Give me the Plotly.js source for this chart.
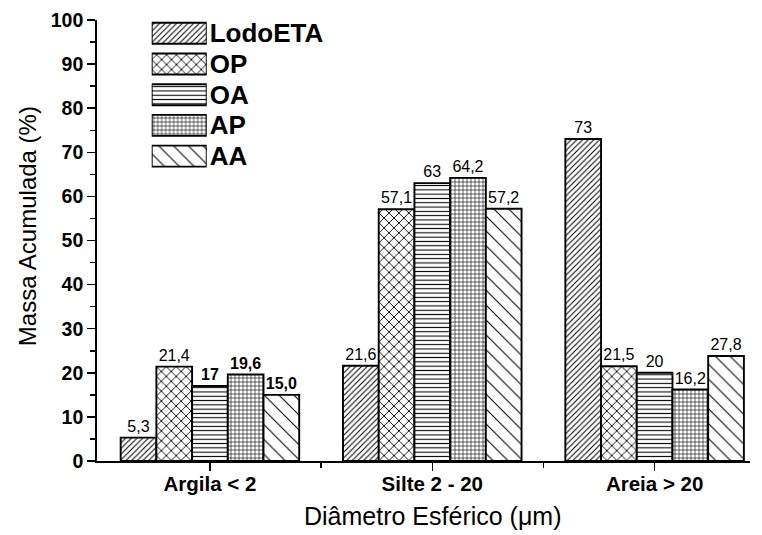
<!DOCTYPE html>
<html><head><meta charset="utf-8">
<script src="https://cdn.plot.ly/plotly-3.0.1.min.js"></script>
<style>body{margin:0;background:#fff}#chart{width:762px;height:535px}</style>
</head><body><div id="chart"></div>
<script>
// ---- data ----
const categories = ['Argila < 2', 'Silte 2 - 20', 'Areia > 20'];
const seriesNames = ['LodoETA', 'OP', 'OA', 'AP', 'AA'];
const lodoETA = [5.3, 21.6, 73];
const op = [21.4, 57.1, 21.5];
const oa = [17, 63, 20];
const ap = [19.6, 64.2, 16.2];
const aa = [15.0, 57.2, 23.8];
const lodoETALabels = ['5,3', '21,6', '73'];
const opLabels = ['21,4', '57,1', '21,5'];
const oaLabels = ['17', '63', '20'];
const apLabels = ['19,6', '64,2', '16,2'];
const aaLabels = ['15,0', '57,2', '27,8'];
const lodoETABold = [false, false, false];
const opBold = [false, false, false];
const oaBold = [true, false, false];
const apBold = [true, false, false];
const aaBold = [true, false, false];
const yTicks = [0, 10, 20, 30, 40, 50, 60, 70, 80, 90, 100];
const xTitle = 'Diâmetro Esférico (μm)';
const yTitle = 'Massa Acumulada (%)';

// ---- styles ----
const FONT = 'Liberation Sans, Arial, Helvetica, sans-serif';
const patterns = [
  {shape: '/', size: 4, solidity: 0.25},
  {shape: 'x', size: 7, solidity: 0.24},
  {shape: '-', size: 4.3, solidity: 0.25},
  {shape: '+', size: 4, solidity: 0.28},
  {shape: '\\', size: 10.5, solidity: 0.1}
];
const values = [lodoETA, op, oa, ap, aa];
const labels = [lodoETALabels, opLabels, oaLabels, apLabels, aaLabels];
const bolds = [lodoETABold, opBold, oaBold, apBold, aaBold];
const xIdx = categories.map((c, i) => i);

const traces = values.map((v, s) => ({
  type: 'bar',
  name: seriesNames[s],
  x: xIdx,
  y: v,
  text: labels[s].map((t, i) => bolds[s][i] ? '<b>' + t + '</b>' : t),
  textposition: 'outside',
  constraintext: 'none',
  cliponaxis: false,
  textfont: {family: FONT, size: 16, color: '#000'},
  hoverinfo: 'skip',
  marker: {
    color: '#fff',
    line: {color: '#000', width: 1.9},
    pattern: Object.assign({fgcolor: '#000', bgcolor: '#fff', fillmode: 'replace'}, patterns[s])
  },
  xaxis: 'x', yaxis: 'y',
  showlegend: false
}));

// legend drawn as an inset of horizontal bars
const legendIdx = seriesNames.map((n, i) => i);
traces.push({
  type: 'bar',
  orientation: 'h',
  x: seriesNames.map(() => 1),
  y: legendIdx,
  width: 0.684,
  offset: -0.342,
  text: seriesNames,
  textposition: 'outside',
  constraintext: 'none',
  cliponaxis: false,
  textfont: {family: FONT, size: 26, color: '#000', weight: 'bold'},
  hoverinfo: 'skip',
  marker: {
    color: '#fff',
    line: {color: '#000', width: 1.9},
    pattern: {
      shape: patterns.map(p => p.shape),
      size: patterns.map(p => p.size),
      solidity: patterns.map(p => p.solidity),
      fgcolor: '#000', bgcolor: '#fff', fillmode: 'replace'
    }
  },
  xaxis: 'x2', yaxis: 'y2',
  showlegend: false
});

const layout = {
  width: 762, height: 535,
  margin: {l: 97, r: 12, t: 20, b: 74},
  paper_bgcolor: '#fff', plot_bgcolor: '#fff',
  barmode: 'group', bargap: 0.197, bargroupgap: 0,
  showlegend: false,
  font: {family: FONT, color: '#000'},
  xaxis: {
    range: [-0.508, 2.429],
    tickvals: xIdx, ticktext: categories,
    tickfont: {family: FONT, size: 20.5, weight: 'bold'},
    ticks: 'outside', ticklen: 8, tickwidth: 1.5, tickcolor: '#000',
    ticklabelstandoff: -4,
    minor: {tickvals: [0.5, 1.5], ticks: 'outside', ticklen: 5, tickwidth: 1.5, tickcolor: '#000'},
    showline: true, linecolor: '#000', linewidth: 1.8,
    showgrid: false, zeroline: false
  },
  yaxis: {
    range: [0, 100],
    tickvals: yTicks,
    tickfont: {family: FONT, size: 19.5, weight: 'bold'},
    ticks: 'outside', ticklen: 8, tickwidth: 1.5, tickcolor: '#000',
    minor: {dtick: 5, tick0: 5, ticks: 'outside', ticklen: 5, tickwidth: 1.5, tickcolor: '#000'},
    showline: true, linecolor: '#000', linewidth: 1.8,
    showgrid: false, zeroline: false
  },
  xaxis2: {domain: [0.0838, 0.1680], range: [0, 1], anchor: 'y2', visible: false, fixedrange: true},
  yaxis2: {domain: [0.6565, 1], range: [4.5, -0.433], anchor: 'x2', visible: false, fixedrange: true},
  annotations: [
    {text: xTitle, xref: 'paper', yref: 'paper', x: 0.515, y: -0.125,
     xanchor: 'center', yanchor: 'middle', showarrow: false,
     font: {family: FONT, size: 25, color: '#000'}},
    {text: yTitle, xref: 'paper', yref: 'paper', x: -0.106, y: 0.532, textangle: -90,
     xanchor: 'center', yanchor: 'middle', showarrow: false,
     font: {family: FONT, size: 24, color: '#000'}}
  ]
};

Plotly.newPlot('chart', traces, layout, {displayModeBar: false, staticPlot: true});
</script>
</body></html>
